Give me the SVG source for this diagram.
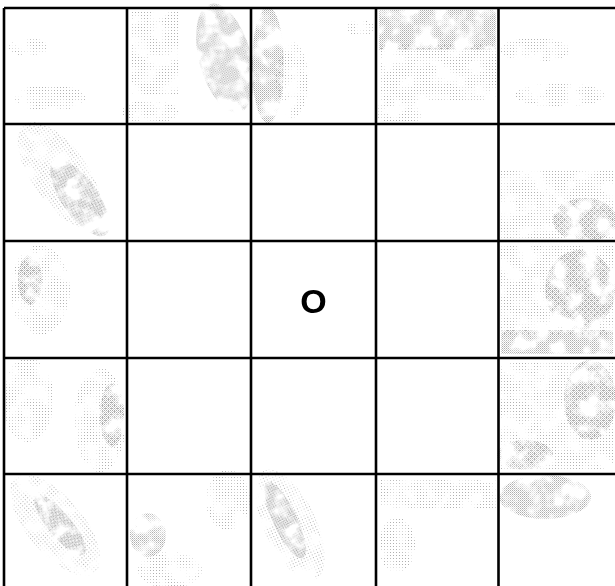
<svg xmlns="http://www.w3.org/2000/svg" width="615" height="586" viewBox="0 0 615 586">
<style>
.grid{stroke:#000;stroke-width:2.6;fill:none}
.lbl{font-family:"Liberation Sans",Arial,sans-serif;font-weight:bold;font-size:34px;fill:#000}
.l{fill:url(#p1)}
.d{fill:url(#p2)}
</style>
<defs>
<pattern id="p1" width="3" height="3" patternUnits="userSpaceOnUse"><rect x="0" y="0" width="1" height="1" fill="#b0b0b0"/></pattern>
<pattern id="p2" width="2" height="2" patternUnits="userSpaceOnUse"><rect x="0" y="0" width="1" height="1" fill="#adadad"/><rect x="1" y="1" width="1" height="1" fill="#d0d0d0"/></pattern>
<filter id="nz" filterUnits="userSpaceOnUse" x="0" y="0" width="615" height="586">
<feTurbulence type="fractalNoise" baseFrequency="0.06" numOctaves="3" seed="7"/>
<feColorMatrix type="matrix" values="0 0 0 0 1  0 0 0 0 1  0 0 0 0 1  4.5 0 0 0 -1.6"/>
</filter>
<mask id="mk" maskUnits="userSpaceOnUse" x="0" y="0" width="615" height="586">
<rect width="615" height="586" fill="#fff" filter="url(#nz)"/>
</mask>
</defs>
<rect width="615" height="586" fill="#fff"/>
<g id="texture" mask="url(#mk)">
<!-- row 0 -->
<ellipse class="l" cx="50" cy="98" rx="36" ry="13"/>
<ellipse class="l" cx="28" cy="47" rx="20" ry="9"/>
<rect class="l" x="130" y="10" width="48" height="85"/>
<ellipse class="d" cx="225" cy="58" rx="26" ry="56" transform="rotate(-15 225 58)"/>
<ellipse class="l" cx="150" cy="112" rx="28" ry="12"/>
<ellipse class="d" cx="268" cy="65" rx="16" ry="58"/>
<ellipse class="l" cx="292" cy="80" rx="16" ry="38"/>
<ellipse class="l" cx="360" cy="28" rx="14" ry="8"/>
<rect class="d" x="379" y="10" width="117" height="40"/>
<rect class="l" x="379" y="45" width="117" height="55"/>
<ellipse class="l" cx="400" cy="112" rx="25" ry="12"/>
<ellipse class="l" cx="535" cy="50" rx="35" ry="12"/>
<ellipse class="l" cx="560" cy="95" rx="45" ry="12"/>
<!-- row 1 -->
<ellipse class="l" cx="60" cy="175" rx="28" ry="62" transform="rotate(-35 60 175)"/>
<ellipse class="d" cx="80" cy="198" rx="18" ry="45" transform="rotate(-35 80 198)"/>
<rect class="l" x="501" y="170" width="112" height="68"/>
<ellipse class="d" cx="585" cy="220" rx="32" ry="22"/>
<!-- row 2 -->
<ellipse class="l" cx="40" cy="290" rx="30" ry="45"/>
<ellipse class="d" cx="30" cy="280" rx="12" ry="25"/>
<rect class="l" x="501" y="245" width="112" height="90"/>
<ellipse class="d" cx="580" cy="290" rx="35" ry="40"/>
<rect class="d" x="501" y="330" width="112" height="24"/>
<!-- row 3 -->
<ellipse class="l" cx="28" cy="400" rx="26" ry="42"/>
<ellipse class="l" cx="100" cy="420" rx="26" ry="52"/>
<ellipse class="d" cx="112" cy="415" rx="12" ry="32"/>
<rect class="l" x="501" y="361" width="112" height="110"/>
<ellipse class="d" cx="525" cy="455" rx="28" ry="15"/>
<ellipse class="d" cx="590" cy="400" rx="26" ry="40"/>
<!-- row 4 -->
<ellipse class="l" cx="55" cy="525" rx="28" ry="62" transform="rotate(-40 55 525)"/>
<ellipse class="d" cx="60" cy="525" rx="12" ry="38" transform="rotate(-40 60 525)"/>
<ellipse class="d" cx="148" cy="535" rx="18" ry="22"/>
<ellipse class="l" cx="170" cy="570" rx="32" ry="18"/>
<ellipse class="l" cx="228" cy="500" rx="22" ry="30"/>
<ellipse class="l" cx="290" cy="525" rx="26" ry="60" transform="rotate(-25 290 525)"/>
<ellipse class="d" cx="285" cy="520" rx="12" ry="42" transform="rotate(-25 285 520)"/>
<rect class="l" x="379" y="478" width="117" height="32"/>
<ellipse class="l" cx="397" cy="545" rx="18" ry="28"/>
<ellipse class="d" cx="545" cy="497" rx="46" ry="22"/>
</g>
<g id="connectors">
<path class="grid" d="M4,8V586M127,8V586M251,8V586M376,8V586M498.5,8V586M4,8H615M4,124H615M4,241H615M4,358H615M4,474H615"/>
</g>
<g id="center">
<text class="lbl" x="313.5" y="313" text-anchor="middle">O</text>
</g>
</svg>
